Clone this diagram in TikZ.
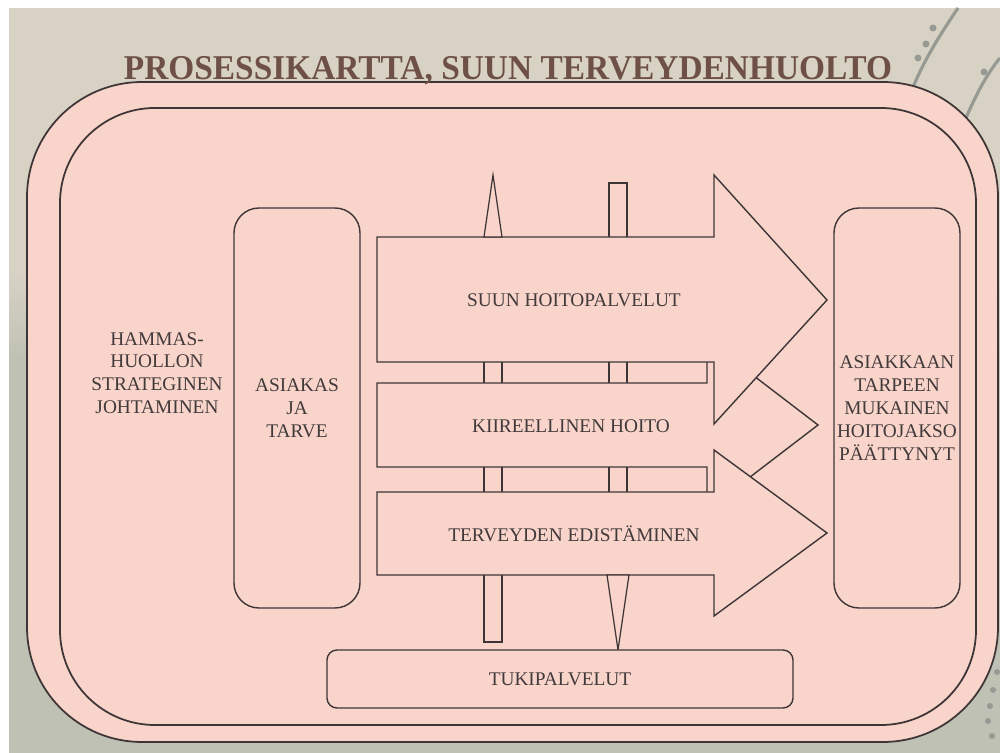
\documentclass[tikz,border=0pt]{standalone}
\usepackage{fontspec}
\setmainfont{Liberation Serif}

\definecolor{bgtop}{RGB}{216,210,197}
\definecolor{bgbottom}{RGB}{191,193,181}
\definecolor{rose}{RGB}{248,212,203}
\definecolor{edge}{RGB}{62,54,54}
\definecolor{ink}{RGB}{66,58,58}
\definecolor{titlebrown}{RGB}{110,80,70}
\definecolor{twig}{RGB}{150,154,146}

\tikzset{
  frame/.style={draw=edge,line width=0.5pt,fill=rose},
  procbox/.style={draw=edge,line width=0.4pt,fill=rose,rounded corners=2.5mm,inner sep=0pt},
  procarrow/.style={draw=edge,line width=0.4pt,fill=rose},
  bar/.style={draw=edge,line width=0.35pt,fill=rose},
  proctext/.style={text=ink,align=center,font=\fontsize{5.5}{6.5}\selectfont},
}

\begin{document}
\begin{tikzpicture}[x=0.1mm,y=-0.1mm]
\useasboundingbox (0,0) rectangle (1000,753);

% tausta
\fill[white] (0,0) rectangle (1000,753);
\fill[bgtop] (9,8) rectangle (1000,270);
\shade[top color=bgtop,bottom color=bgbottom] (9,270) rectangle (1000,360);
\fill[bgbottom] (9,360) rectangle (1000,753);
\draw[twig,line width=0.9pt] (958,8) .. controls (940,35) and (922,62) .. (908,100);
\draw[twig,line width=0.9pt] (1000,58) .. controls (986,75) and (976,95) .. (965,120);
\foreach \p in {(933,28),(926,44),(918,58),(984,72)}
  \fill[twig] \p circle (3.5);
\foreach \p in {(997,672),(993,690),(990,706),(988,721),(992,736)}
  \fill[twig] \p circle (3);

% kehykset
\draw[frame,rounded corners=11.5mm] (27,82) rectangle (998,742);
\draw[frame,rounded corners=9.5mm] (60,108) rectangle (976,725);

\node[text=titlebrown,font=\bfseries\fontsize{9.9}{12}\selectfont,anchor=base] (title) at (508,80)
  {\scalebox{0.96}[1]{PROSESSIKARTTA, SUUN TERVEYDENHUOLTO}};

\node[proctext] (johto) at (157,373) {HAMMAS-\\HUOLLON\\STRATEGINEN\\JOHTAMINEN};

% tukipalvelujen tangot
\draw[bar] (484,260) rectangle (502,642);
\draw[bar] (609,183) rectangle (627,520);

% prosessinuolet
\draw[procarrow] (377,383) -- (707,383) -- (707,340) -- (818,425) -- (707,510) -- (707,467) -- (377,467) -- cycle;
\draw[procarrow] (377,237) -- (714,237) -- (714,175) -- (827,300) -- (714,424) -- (714,362) -- (377,362) -- cycle;
\draw[procarrow] (377,492) -- (714,492) -- (714,450) -- (827,533) -- (714,616) -- (714,575) -- (377,575) -- cycle;
\node[proctext] (hoito) at (574,300) {SUUN HOITOPALVELUT};
\node[proctext] (kiire) at (571,426) {KIIREELLINEN HOITO};
\node[proctext] (edist) at (574,534) {TERVEYDEN EDISTÄMINEN};

\draw[bar] (484,237) -- (493,175) -- (502,237) -- cycle;
\draw[bar] (607,575) -- (618,650) -- (629,575) -- cycle;

% laatikot
\node[procbox,proctext,minimum width=12.6mm,minimum height=40mm] (asiakas) at (297,408) {ASIAKAS\\JA\\TARVE};
\node[procbox,proctext,minimum width=12.6mm,minimum height=40mm] (loppu) at (897,408)
  {ASIAKKAAN\\TARPEEN\\MUKAINEN\\HOITOJAKSO\\PÄÄTTYNYT};
\node[procbox,proctext,rounded corners=1mm,minimum width=46.6mm,minimum height=5.8mm] (tuki) at (560,679) {TUKIPALVELUT};
\end{tikzpicture}
\end{document}
